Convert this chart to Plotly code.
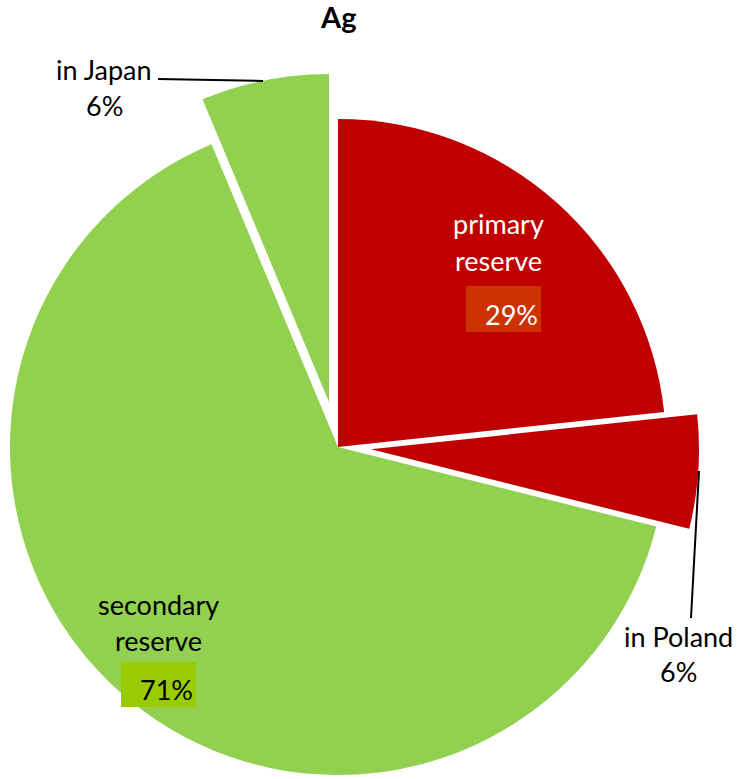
import plotly.graph_objects as go

# ---- data ----
slice_labels = ["primary reserve", "in Poland", "secondary reserve", "in Japan"]
slice_values = [23.3, 5.6, 64.8, 6.3]
slice_colors = ["#C00000", "#C00000", "#92D050", "#92D050"]
group_names = ["primary reserve", "secondary reserve"]
group_members = [[0, 1], [2, 3]]
title_text = "Ag"

W, H = 740, 779
FONT = "Lato"
total = sum(slice_values)
pct = [v / total * 100 for v in slice_values]
group_pct = [sum(pct[i] for i in g) for g in group_members]

def px(x):
    return x / W

def py(y):
    return 1 - y / H

def dom(cx, cy, r):
    return dict(x=[px(cx - r), px(cx + r)], y=[py(cy + r), py(cy - r)])

R = 328
CX, CY = 338, 447
# (visible slice indices, centre offset in px)
layers = [([0, 2], (0, 0)), ([1], (33, 2.3)), ([3], (-9, -45))]

fig = go.Figure()
for vis, (dx, dy) in layers:
    cols = [slice_colors[i] if i in vis else "rgba(0,0,0,0)" for i in range(len(slice_values))]
    fig.add_trace(go.Pie(
        labels=slice_labels, values=slice_values, sort=False, direction="clockwise",
        rotation=0, marker=dict(colors=cols, line=dict(width=0)), textinfo="none",
        hoverinfo="skip", showlegend=False,
        domain=dom(CX + dx, CY + dy, R),
    ))

anns = []
shapes = []

def text(x, y, s, color="black", size=27, bold=False):
    anns.append(dict(x=px(x), y=py(y), xref="paper", yref="paper", text=("<b>%s</b>" % s) if bold else s,
                     showarrow=False, xanchor="center", yanchor="middle",
                     font=dict(family=FONT, size=size, color=color)))

# title
text(338, 17, title_text, bold=True, size=29)

# group labels
p_name = group_names[0].split(" ")
text(498, 224, p_name[0], color="white")
text(498, 260, p_name[1], color="white")
shapes.append(dict(type="rect", xref="paper", yref="paper", x0=px(466), x1=px(541), y0=py(332), y1=py(286),
                   fillcolor="#CC3300", line=dict(width=0), layer="above"))
text(511, 314, "%d%%" % round(group_pct[0]), color="white")

s_name = group_names[1].split(" ")
text(158, 604, s_name[0])
text(158, 640, s_name[1])
shapes.append(dict(type="rect", xref="paper", yref="paper", x0=px(121), x1=px(196), y0=py(707), y1=py(662),
                   fillcolor="#99CC00", line=dict(width=0), layer="above"))
text(166, 689, "%d%%" % round(group_pct[1]))

# outer labels
text(104, 70, slice_labels[3])
text(104, 105, "%d%%" % round(pct[3]))
text(678, 636, slice_labels[1])
text(678, 671, "%d%%" % round(pct[1]))

shapes.append(dict(type="line", xref="paper", yref="paper", x0=px(158), y0=py(79), x1=px(263), y1=py(81),
                   line=dict(color="black", width=2), layer="above"))
shapes.append(dict(type="line", xref="paper", yref="paper", x0=px(699), y0=py(471), x1=px(691), y1=py(618),
                   line=dict(color="black", width=2), layer="above"))

fig.update_layout(width=W, height=H, margin=dict(l=0, r=0, t=0, b=0),
                  paper_bgcolor="white", plot_bgcolor="white",
                  annotations=anns, shapes=shapes)
fig.write_html("out.html", config={"displayModeBar": False},
               post_script="document.body.style.margin='0';document.body.style.overflow='hidden';")
